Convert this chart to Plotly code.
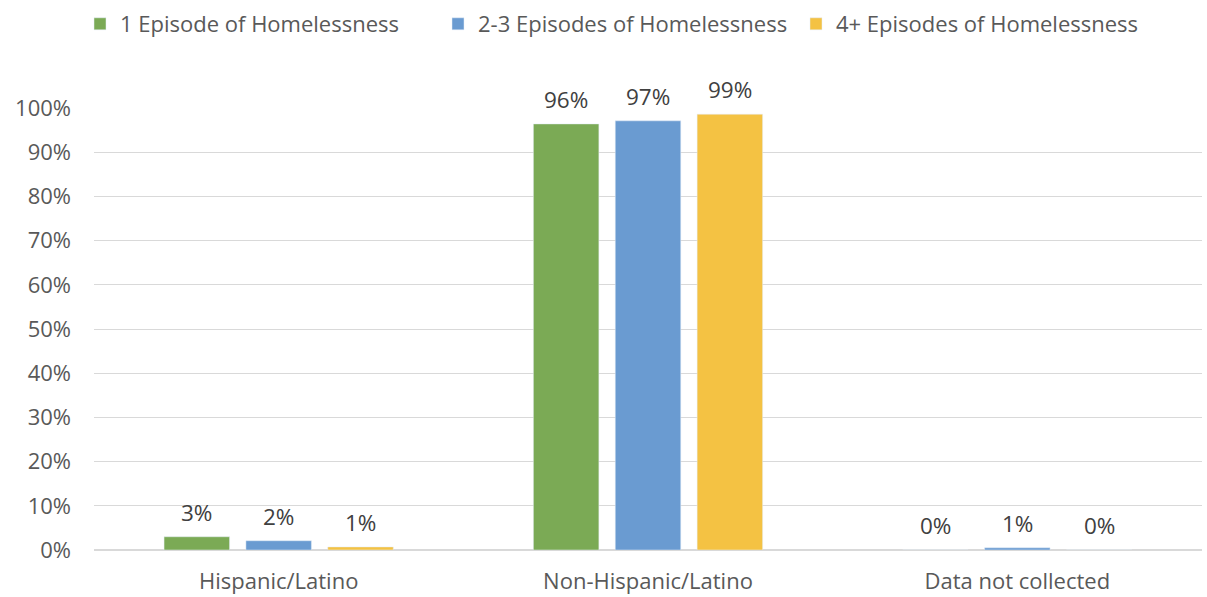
import plotly.graph_objects as go

categories = ["Hispanic/Latino", "Non-Hispanic/Latino", "Data not collected"]
series_names = ["1 Episode of Homelessness", "2-3 Episodes of Homelessness", "4+ Episodes of Homelessness"]
one_episode = [0.030, 0.964, 0.0]
two_three_episodes = [0.021, 0.971, 0.005]
four_plus_episodes = [0.007, 0.986, 0.0]
one_labels = ["3%", "96%", "0%"]
two_three_labels = ["2%", "97%", "1%"]
four_plus_labels = ["1%", "99%", "0%"]
tick_vals = [0, 0.1, 0.2, 0.3, 0.4, 0.5, 0.6, 0.7, 0.8, 0.9, 1.0]
tick_text = ["0%", "10%", "20%", "30%", "40%", "50%", "60%", "70%", "80%", "90%", "100%"]

colors = ["#7BAA55", "#6A9BD1", "#F4C243"]
FONT = "Open Sans"

W, H = 1207, 597
ML, MR, MT, MB = 94, 5, 108, 47
BARGAP, GROUPGAP = 0.335, 0.2

fig = go.Figure()
all_vals = [one_episode, two_three_episodes, four_plus_episodes]
all_labels = [one_labels, two_three_labels, four_plus_labels]
for name, vals, col in zip(series_names, all_vals, colors):
    fig.add_trace(go.Bar(x=categories, y=vals, name=name, marker_color=col))

# data labels positioned over grouped bars
cat_px = (W - ML - MR) / len(categories)
slot_px = cat_px * (1 - BARGAP) / len(series_names)
for i, (vals, labels) in enumerate(zip(all_vals, all_labels)):
    off = (i - (len(series_names) - 1) / 2) * slot_px
    for c, v, lab in zip(categories, vals, labels):
        fig.add_annotation(x=c, y=v, text=lab, showarrow=False, xshift=off,
                           yanchor="bottom", yshift=7,
                           font=dict(size=22.5, color="#404040", family=FONT))

fig.update_layout(
    width=W, height=H,
    margin=dict(l=ML, r=MR, t=MT, b=MB, autoexpand=False),
    plot_bgcolor="white", paper_bgcolor="white",
    barmode="group", bargap=BARGAP, bargroupgap=GROUPGAP,
    font=dict(family=FONT, size=20, color="#595959"),
    legend=dict(orientation="h", x=80 / W, xanchor="left", xref="container",
                y=0.995, yanchor="top", yref="container",
                font=dict(size=22, color="#595959"),
                entrywidth=313, entrywidthmode="pixels",
                traceorder="normal"),
)
fig.update_yaxes(range=[0, 1.0], tickvals=tick_vals, ticktext=tick_text,
                 showgrid=True, gridcolor="#D9D9D9", gridwidth=1,
                 zeroline=True, zerolinecolor="#D9D9D9", showline=False,
                 tickfont=dict(size=22, color="#595959"), ticks="",
                 ticklabelstandoff=22, automargin=False)
fig.update_xaxes(showgrid=False, showline=False, ticks="",
                 tickfont=dict(size=22, color="#595959"), ticklabelstandoff=16,
                 automargin=False)

fig.write_html("out.html")
